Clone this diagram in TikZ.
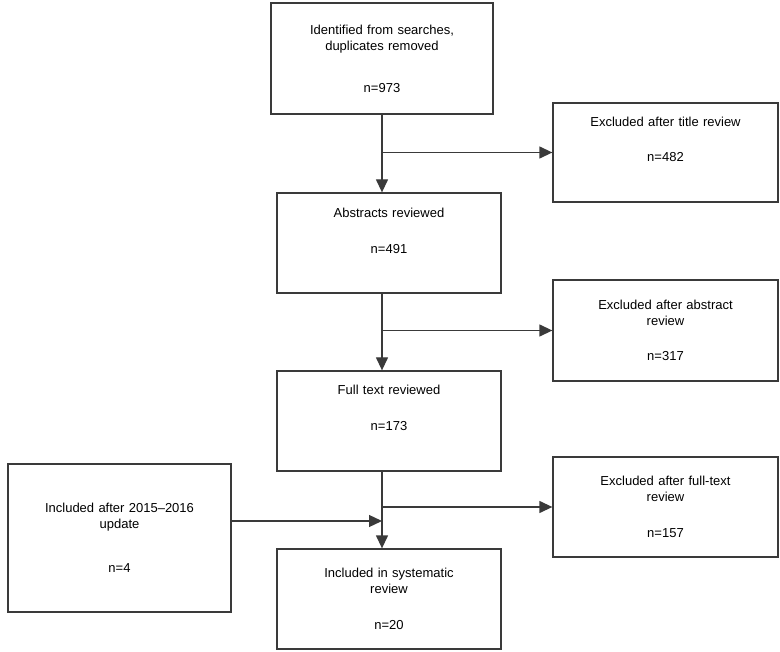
\documentclass[tikz,border=0pt]{standalone}
\usepackage{fontspec}
\setmainfont{Liberation Sans}
\usetikzlibrary{arrows.meta}
\definecolor{edge}{HTML}{3A3A3A}

\begin{document}
\begin{tikzpicture}[x=1pt, y=-1pt,
  stage/.style={draw=edge, line width=1.3pt, rectangle, text width=200pt, align=center,
    minimum width=224pt, minimum height=100pt, inner sep=0pt, font=\fontsize{13}{16}\selectfont},
  flow/.style={draw=edge, line width=1.3pt, -{Triangle[length=13pt, width=12pt]}}]
\useasboundingbox (0,0) rectangle (780,652);

\node[stage, minimum width=222pt, minimum height=111pt] (ident) at (382,58.5) {Identified from searches,\\duplicates removed\\[26pt]n=973};
\node[stage, minimum width=225pt, minimum height=99pt] (titleex) at (665.5,152.5) {Excluded after title review\\[19pt]n=482\\[11pt]\mbox{}};
\node[stage] (abstracts) at (389,243) {Abstracts reviewed\\[20pt]n=491\\[9pt]\mbox{}};
\node[stage, minimum width=225pt, minimum height=101pt] (absex) at (665.5,330.5) {Excluded after abstract\\review\\[19pt]n=317};
\node[stage] (fulltext) at (389,421) {Full text reviewed\\[20pt]n=173\\[10pt]\mbox{}};
\node[stage, minimum width=225pt] (ftex) at (665.5,507) {Excluded after full-text\\review\\[20pt]n=157};
\node[stage, minimum width=223pt, minimum height=148pt] (update) at (119.5,538) {Included after 2015--2016\\update\\[28pt]n=4};
\node[stage] (included) at (389,599) {Included in systematic\\review\\[20pt]n=20};

\coordinate (merge) at (382,521);

\draw[flow] (ident.south) -- (ident.south |- abstracts.north);
\draw[flow] (ident.south |- titleex.west) -- (titleex.west);
\draw[flow] (ident.south |- abstracts.south) -- (ident.south |- fulltext.north);
\draw[flow] (ident.south |- absex.west) -- (absex.west);
\draw[flow] (ident.south |- fulltext.south) -- (ident.south |- included.north);
\draw[flow] (ident.south |- ftex.west) -- (ftex.west);
\draw[flow] (update.east |- merge) -- (merge);
\end{tikzpicture}
\end{document}
